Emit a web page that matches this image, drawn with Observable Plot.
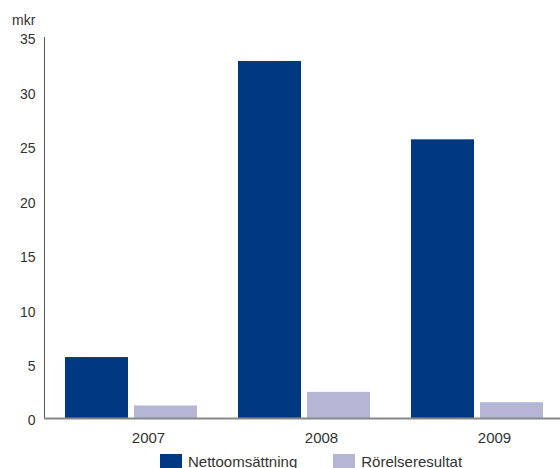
<!DOCTYPE html>
<html><head><meta charset="utf-8">
<script src="https://cdn.jsdelivr.net/npm/d3@7"></script>
<script src="https://cdn.jsdelivr.net/npm/@observablehq/plot@0.6"></script>
<style>
body{margin:0;background:#fff;font-family:"Liberation Sans",Arial,Helvetica,sans-serif;}
#wrap{position:relative;width:560px;height:468px;overflow:hidden;background:#fff;}
#wrap svg{display:block;}
.unit{position:absolute;left:12px;top:12px;font-size:14px;line-height:16px;color:#333;}
.legend{position:absolute;top:454px;left:160px;display:flex;align-items:center;height:14px;font-size:15px;color:#333;}
.item{display:flex;align-items:center;margin-right:36px;}
.sw{width:22px;height:14px;margin-right:6px;}
</style></head><body><div id="wrap"></div>
<script>
const years = ["2007", "2008", "2009"];
const nettoomsattning = [5.6, 32.8, 25.6];
const rorelseresultat = [1.15, 2.4, 1.45];
const seriesNames = ["Nettoomsättning", "Rörelseresultat"];
const seriesColors = ["#003882", "#b5b6d5"];
const yTicks = [0, 5, 10, 15, 20, 25, 30, 35];
const unitLabel = "mkr";

const netto = years.map((y, i) => ({year: y, value: nettoomsattning[i]}));
const ror = years.map((y, i) => ({year: y, value: rorelseresultat[i]}));

const chart = Plot.plot({
  width: 560,
  height: 450,
  marginLeft: 44,
  marginRight: 0,
  marginTop: 37,
  marginBottom: 32,
  style: {fontFamily: '"Liberation Sans", Arial, sans-serif', color: "#333", background: "#fff"},
  x: {domain: years, paddingInner: 0.237, paddingOuter: 0.1085, align: 0.547, label: null},
  y: {domain: [0, 35], label: null},
  marks: [
    Plot.barY(netto, {x: "year", y: "value", fill: seriesColors[0], insetRight: 69}),
    Plot.barY(ror, {x: "year", y: "value", fill: seriesColors[1], insetLeft: 69}),
    Plot.frame({anchor: "left", stroke: "#555", strokeWidth: 1}),
    Plot.ruleY([0], {stroke: "#888", strokeWidth: 2}),
    Plot.axisY({ticks: yTicks, tickSize: 0, tickPadding: 9, dy: 2.5, fontSize: 14, label: null}),
    Plot.axisX({tickSize: 0, tickPadding: 14, dx: 17, fontSize: 15, label: null})
  ]
});
const wrap = document.getElementById("wrap");
wrap.appendChild(chart);
const unit = document.createElement("div");
unit.className = "unit";
unit.textContent = unitLabel;
wrap.appendChild(unit);
const legend = document.createElement("div");
legend.className = "legend";
seriesNames.forEach((name, i) => {
  const it = document.createElement("div");
  it.className = "item";
  const sw = document.createElement("div");
  sw.className = "sw";
  sw.style.background = seriesColors[i];
  const t = document.createElement("span");
  t.textContent = name;
  it.appendChild(sw); it.appendChild(t);
  legend.appendChild(it);
});
wrap.appendChild(legend);
</script></body></html>
